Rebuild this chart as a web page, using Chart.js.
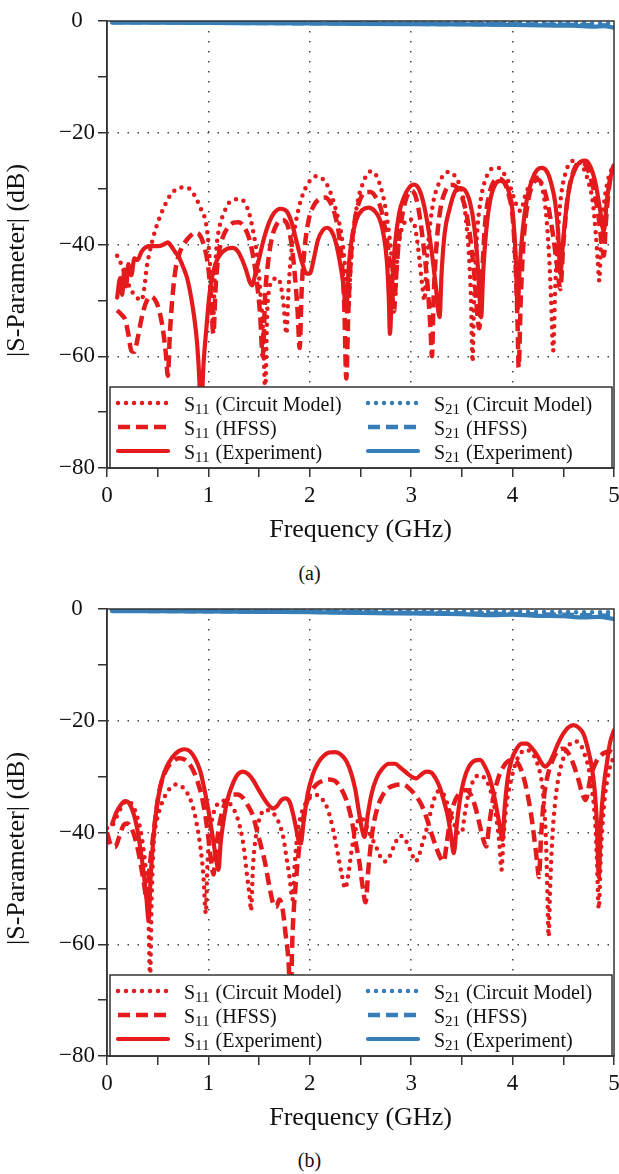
<!DOCTYPE html>
<html>
<head>
<meta charset="utf-8">
<script src="https://cdn.jsdelivr.net/npm/chart.js@4.4.1/dist/chart.umd.min.js"></script>
<style>
  body { margin: 0; background: #fff; }
  #page { position: relative; width: 619px; height: 1174px; }
  canvas { position: absolute; left: 0; }
  .cap { position: absolute; left: 0; width: 619px; text-align: center;
         font: 20px "Liberation Serif", serif; line-height: 24px; color: #111; }
</style>
</head>
<body>
<div id="page">
  <canvas id="chartA" width="619" height="555" style="top:0px"></canvas>
  <div class="cap" style="top:561px">(a)</div>
  <canvas id="chartB" width="619" height="555" style="top:588px"></canvas>
  <div class="cap" style="top:1148px">(b)</div>
</div>
<script>
// [frequency GHz, dB]

// ---- panel (a) ----
const A_S11_CIRCUIT = [
  [0.10,-42.0],[0.14,-43.5],[0.18,-45.5],[0.22,-47.5],[0.26,-48.8],[0.30,-49.6],[0.34,-50.0],[0.37,-47.5],
  [0.39,-44.3],[0.42,-41.4],[0.47,-37.8],[0.52,-35.1],[0.57,-33.0],[0.62,-31.3],[0.67,-30.3],[0.73,-29.8],
  [0.78,-29.8],[0.83,-30.3],[0.88,-31.8],[0.93,-33.8],[0.98,-36.6],[1.01,-42.0],[1.03,-48.0],[1.045,-55.0],
  [1.06,-47.0],[1.08,-40.5],[1.11,-36.8],[1.15,-34.5],[1.20,-32.6],[1.25,-32.0],[1.30,-31.9],[1.35,-32.3],
  [1.40,-34.3],[1.44,-37.5],[1.48,-42.0],[1.51,-48.0],[1.54,-56.0],[1.56,-66.0],
  [1.58,-52.0],[1.60,-48.0],[1.64,-46.3],[1.68,-46.0],[1.71,-47.0],[1.74,-50.5],[1.77,-56.0],
  [1.79,-48.0],[1.82,-41.0],[1.86,-36.2],[1.91,-32.2],[1.96,-29.8],[2.01,-28.4],[2.06,-27.8],[2.11,-28.0],
  [2.16,-29.0],[2.21,-31.0],[2.26,-34.0],[2.31,-38.0],[2.34,-42.5],[2.36,-47.0],[2.38,-52.0],
  [2.40,-45.0],[2.43,-38.0],[2.47,-32.5],[2.52,-29.2],[2.57,-27.3],[2.61,-26.9],[2.66,-27.8],[2.70,-29.8],
  [2.74,-32.8],[2.77,-36.5],[2.80,-41.0],[2.82,-46.0],[2.84,-49.5],
  [2.86,-43.0],[2.89,-38.5],[2.93,-36.2],[2.98,-35.5],[3.02,-35.8],[3.05,-38.2],[3.08,-42.5],[3.11,-47.5],[3.13,-50.0],
  [3.15,-44.0],[3.18,-37.5],[3.22,-32.2],[3.27,-29.2],[3.32,-27.5],[3.37,-27.0],[3.42,-27.5],[3.47,-29.0],
  [3.51,-31.5],[3.54,-35.5],[3.57,-42.0],[3.59,-50.0],[3.605,-61.0],
  [3.62,-50.0],[3.65,-38.0],[3.69,-31.5],[3.74,-28.0],[3.80,-26.4],[3.86,-26.3],[3.91,-27.2],[3.96,-28.8],
  [4.01,-31.5],[4.05,-33.5],[4.08,-34.0],[4.12,-31.5],[4.17,-29.2],[4.22,-28.0],[4.26,-28.3],[4.30,-30.5],
  [4.33,-34.5],[4.36,-42.0],[4.38,-50.0],[4.40,-59.0],
  [4.42,-48.0],[4.45,-37.0],[4.48,-31.0],[4.52,-27.3],[4.57,-25.3],[4.62,-25.0],[4.67,-25.6],[4.71,-26.8],
  [4.75,-29.0],[4.79,-32.3],[4.82,-38.0],[4.84,-43.0],[4.855,-46.5],
  [4.87,-40.0],[4.90,-33.0],[4.94,-28.5],[4.97,-26.8],[5.00,-26.0]
];
const A_S11_HFSS = [
  [0.10,-51.8],[0.14,-52.5],[0.18,-53.5],[0.21,-56.0],[0.24,-59.0],[0.27,-59.2],[0.30,-57.0],[0.34,-53.3],
  [0.38,-50.6],[0.43,-49.3],[0.47,-49.8],[0.51,-51.5],[0.55,-55.0],[0.58,-59.5],[0.60,-63.5],
  [0.62,-56.0],[0.65,-48.5],[0.68,-44.0],[0.72,-41.3],[0.77,-39.6],[0.82,-38.5],[0.87,-37.9],[0.91,-38.2],
  [0.95,-39.8],[0.99,-43.0],[1.02,-48.0],[1.05,-56.0],
  [1.07,-48.0],[1.10,-42.0],[1.14,-38.8],[1.19,-37.0],[1.25,-36.1],[1.30,-36.0],[1.35,-36.8],[1.40,-38.8],
  [1.44,-42.0],[1.48,-47.0],[1.51,-52.5],[1.535,-60.0],
  [1.56,-49.0],[1.59,-43.0],[1.63,-38.5],[1.68,-36.2],[1.73,-35.6],[1.78,-36.5],[1.82,-40.0],[1.85,-45.0],
  [1.88,-52.0],[1.90,-58.5],
  [1.92,-48.0],[1.95,-40.5],[1.99,-35.5],[2.04,-33.0],[2.10,-31.8],[2.15,-31.6],[2.20,-32.4],[2.25,-34.8],
  [2.29,-38.5],[2.32,-44.0],[2.34,-51.0],[2.36,-64.0],
  [2.38,-52.0],[2.41,-41.0],[2.45,-35.0],[2.50,-31.8],[2.55,-30.6],[2.60,-30.6],[2.65,-31.5],[2.70,-33.5],
  [2.74,-37.0],[2.78,-42.0],[2.81,-48.0],[2.83,-52.0],
  [2.85,-46.0],[2.88,-39.0],[2.92,-34.0],[2.96,-31.3],[3.00,-30.4],[3.04,-31.2],[3.08,-34.5],[3.12,-40.0],
  [3.16,-47.0],[3.19,-55.0],[3.205,-60.0],
  [3.22,-50.0],[3.25,-40.0],[3.29,-33.5],[3.34,-30.3],[3.39,-29.3],[3.44,-29.6],[3.49,-31.0],[3.54,-34.0],
  [3.58,-38.5],[3.62,-45.0],[3.65,-52.0],[3.67,-55.0],
  [3.70,-45.0],[3.73,-36.0],[3.77,-31.0],[3.82,-28.6],[3.87,-28.2],[3.92,-29.0],[3.96,-31.0],[4.00,-35.0],
  [4.03,-44.0],[4.05,-55.0],[4.06,-62.0],
  [4.08,-50.0],[4.11,-39.0],[4.15,-32.5],[4.20,-29.2],[4.25,-28.4],[4.30,-29.6],[4.35,-33.0],[4.40,-38.5],
  [4.44,-44.0],[4.47,-48.0],
  [4.50,-40.0],[4.54,-32.0],[4.59,-27.5],[4.64,-25.6],[4.69,-25.4],[4.74,-26.5],[4.79,-29.5],[4.84,-34.0],
  [4.88,-40.0],[4.90,-42.0],
  [4.92,-36.0],[4.95,-30.0],[4.98,-26.8],[5.00,-25.8]
];
const A_S11_EXP = [
  [0.10,-49.5],[0.13,-46.0],[0.15,-49.0],[0.17,-44.5],[0.19,-47.5],[0.21,-43.5],[0.24,-45.5],[0.27,-42.5],
  [0.30,-42.8],[0.34,-41.3],[0.38,-40.5],[0.44,-40.3],[0.50,-40.3],[0.56,-40.0],[0.60,-39.6],[0.63,-40.2],
  [0.67,-41.3],[0.71,-42.3],[0.75,-44.0],[0.79,-46.0],[0.83,-49.5],[0.86,-53.0],[0.89,-58.0],[0.91,-64.0],[0.925,-72.0],
  [0.95,-62.0],[0.98,-55.0],[1.01,-49.0],[1.04,-45.5],[1.08,-43.0],[1.13,-41.5],[1.19,-40.7],[1.24,-40.6],
  [1.29,-41.2],[1.33,-42.6],[1.37,-44.5],[1.41,-46.8],[1.43,-47.3],
  [1.46,-45.5],[1.50,-42.5],[1.55,-38.8],[1.60,-36.0],[1.65,-34.3],[1.71,-33.6],[1.77,-34.0],[1.82,-36.0],
  [1.87,-39.5],[1.92,-43.0],[1.97,-45.2],[2.00,-45.2],
  [2.04,-42.5],[2.08,-39.2],[2.13,-37.4],[2.17,-37.0],[2.21,-37.5],[2.25,-39.2],[2.29,-42.5],[2.33,-47.0],[2.36,-52.0],
  [2.38,-45.0],[2.41,-39.5],[2.46,-35.5],[2.52,-33.8],[2.58,-33.4],[2.64,-34.0],[2.69,-35.5],[2.73,-38.5],
  [2.76,-43.0],[2.78,-50.0],[2.79,-56.0],
  [2.81,-48.0],[2.84,-40.0],[2.88,-34.5],[2.93,-31.5],[2.98,-29.8],[3.03,-29.3],[3.08,-30.2],[3.12,-32.5],
  [3.16,-36.2],[3.20,-41.0],[3.24,-47.0],[3.28,-53.0],
  [3.30,-45.0],[3.33,-38.0],[3.38,-33.5],[3.43,-30.6],[3.48,-29.9],[3.53,-30.3],[3.58,-32.5],[3.62,-36.5],
  [3.65,-42.0],[3.67,-48.0],[3.69,-53.0],
  [3.71,-45.0],[3.74,-37.5],[3.78,-32.0],[3.83,-29.2],[3.88,-28.6],[3.93,-29.1],[3.97,-31.0],[4.00,-34.0],
  [4.03,-42.0],[4.05,-51.5],
  [4.07,-44.0],[4.10,-37.4],[4.14,-32.0],[4.19,-28.5],[4.24,-26.7],[4.29,-26.3],[4.34,-27.0],[4.38,-29.0],
  [4.42,-32.5],[4.45,-38.0],[4.47,-45.2],
  [4.50,-39.0],[4.53,-33.5],[4.57,-29.0],[4.62,-26.4],[4.67,-25.2],[4.72,-25.0],[4.77,-26.2],[4.82,-29.2],
  [4.86,-33.5],[4.90,-37.6],
  [4.93,-32.0],[4.96,-28.5],[5.00,-25.8]
];
const A_S21_CIRCUIT = [[0.05,-0.15],[1.0,-0.2],[2.0,-0.25],[3.0,-0.3],[4.0,-0.35],[5.0,-0.45]];
const A_S21_HFSS = [[0.05,-0.2],[1.0,-0.3],[2.0,-0.4],[3.0,-0.5],[4.0,-0.6],[5.0,-0.8]];
const A_S21_EXP = [
  [0.05,-0.3],[0.5,-0.3],[1.0,-0.35],[1.5,-0.4],[2.0,-0.45],[2.5,-0.5],[3.0,-0.55],[3.5,-0.6],
  [4.0,-0.7],[4.3,-0.8],[4.6,-0.85],[4.8,-1.0],[4.9,-0.9],[5.0,-1.2]
];

// ---- panel (b) ----
const B_S11_CIRCUIT = [
  [0.00,-39.2],[0.05,-38.8],[0.10,-37.0],[0.14,-35.5],[0.19,-34.4],[0.23,-34.6],[0.27,-35.8],[0.31,-38.0],
  [0.34,-40.5],[0.37,-44.5],[0.39,-48.5],[0.41,-56.0],[0.425,-66.0],
  [0.44,-52.0],[0.46,-42.0],[0.49,-38.0],[0.53,-35.3],[0.58,-33.2],[0.63,-31.9],[0.69,-31.4],[0.74,-31.8],
  [0.79,-32.9],[0.84,-35.0],[0.88,-38.0],[0.92,-42.5],[0.95,-47.5],[0.975,-54.5],
  [0.99,-46.0],[1.02,-39.5],[1.06,-36.0],[1.11,-34.6],[1.16,-34.3],[1.21,-34.8],[1.26,-36.2],[1.31,-38.9],
  [1.35,-42.8],[1.38,-47.5],[1.41,-52.0],[1.42,-54.0],
  [1.44,-46.0],[1.47,-40.5],[1.51,-37.2],[1.56,-35.9],[1.61,-36.2],[1.66,-37.0],[1.70,-38.5],[1.74,-41.0],
  [1.77,-44.5],[1.80,-48.0],[1.83,-52.0],
  [1.85,-46.0],[1.88,-40.0],[1.92,-36.5],[1.97,-34.5],[2.03,-33.4],[2.08,-33.3],[2.13,-34.2],[2.18,-36.0],
  [2.23,-39.5],[2.27,-43.2],[2.31,-47.0],[2.35,-50.0],
  [2.38,-47.5],[2.41,-43.5],[2.45,-39.6],[2.49,-37.4],[2.53,-37.8],[2.57,-39.3],[2.62,-41.3],[2.67,-43.2],
  [2.71,-44.8],[2.75,-45.2],[2.79,-44.2],[2.84,-42.0],[2.89,-40.6],[2.93,-40.9],[2.97,-42.3],[3.01,-44.0],
  [3.04,-45.2],[3.07,-44.5],[3.11,-42.0],[3.15,-39.5],[3.19,-36.5],[3.23,-33.8],[3.27,-32.6],[3.31,-32.9],
  [3.35,-34.5],[3.39,-36.8],[3.43,-38.8],[3.47,-40.2],[3.50,-40.0],[3.53,-36.5],[3.57,-32.8],[3.62,-30.5],
  [3.67,-29.7],[3.72,-30.2],[3.77,-31.8],[3.81,-34.5],[3.84,-37.5],[3.87,-42.0],[3.89,-46.7],
  [3.91,-41.0],[3.94,-35.0],[3.98,-31.0],[4.03,-27.6],[4.08,-25.8],[4.13,-25.2],[4.18,-25.6],[4.22,-26.6],
  [4.26,-28.6],[4.29,-31.2],[4.31,-35.0],[4.33,-42.0],[4.345,-52.0],[4.355,-58.6],
  [4.37,-50.0],[4.39,-41.5],[4.42,-34.5],[4.46,-29.5],[4.51,-26.2],[4.56,-24.3],[4.62,-23.7],[4.67,-24.3],
  [4.71,-26.0],[4.75,-28.5],[4.78,-32.0],[4.81,-37.0],[4.83,-44.0],[4.85,-53.6],
  [4.87,-44.0],[4.90,-35.4],[4.94,-30.0],[4.97,-27.7],[5.00,-26.5]
];
const B_S11_HFSS = [
  [0.00,-40.0],[0.04,-42.3],[0.08,-42.6],[0.12,-40.8],[0.16,-38.8],[0.20,-38.4],[0.24,-39.2],[0.28,-41.2],
  [0.31,-43.5],[0.34,-46.5],[0.37,-49.8],[0.39,-52.0],
  [0.41,-48.0],[0.44,-43.0],[0.47,-38.5],[0.50,-34.2],[0.54,-30.8],[0.59,-28.6],[0.65,-27.3],[0.71,-26.7],
  [0.77,-27.0],[0.83,-28.2],[0.88,-30.2],[0.93,-33.2],[0.97,-37.0],[1.00,-41.0],[1.03,-45.5],[1.05,-47.5],
  [1.07,-44.0],[1.10,-39.5],[1.14,-36.0],[1.19,-34.0],[1.24,-33.2],[1.29,-33.2],[1.34,-33.8],[1.39,-35.2],
  [1.44,-37.0],[1.48,-39.8],[1.52,-42.5],[1.56,-45.5],[1.60,-49.5],[1.64,-52.8],[1.67,-53.3],[1.70,-52.0],
  [1.73,-53.5],[1.76,-58.0],[1.79,-63.0],[1.81,-70.0],
  [1.83,-58.0],[1.86,-49.5],[1.90,-42.0],[1.95,-36.0],[2.00,-33.2],[2.06,-31.5],[2.12,-30.8],[2.19,-30.5],
  [2.25,-30.8],[2.31,-32.2],[2.36,-34.2],[2.41,-37.5],[2.45,-41.5],[2.49,-45.5],[2.52,-49.5],[2.55,-52.5],
  [2.58,-46.0],[2.62,-39.5],[2.67,-35.4],[2.72,-33.3],[2.78,-32.0],[2.85,-31.5],[2.92,-31.4],[2.98,-32.1],
  [3.04,-33.3],[3.10,-35.0],[3.15,-37.3],[3.20,-40.2],[3.25,-42.8],[3.29,-44.6],[3.32,-45.2],
  [3.35,-42.0],[3.39,-37.0],[3.44,-34.0],[3.49,-32.8],[3.54,-32.4],[3.59,-33.3],[3.63,-35.3],[3.67,-38.2],
  [3.71,-41.2],[3.74,-42.5],
  [3.77,-38.5],[3.81,-33.8],[3.86,-30.2],[3.91,-28.2],[3.96,-27.2],[4.01,-27.0],[4.06,-27.8],[4.10,-29.6],
  [4.14,-32.5],[4.18,-36.5],[4.21,-40.5],[4.24,-45.0],[4.26,-48.0],
  [4.28,-41.0],[4.31,-33.6],[4.35,-29.5],[4.40,-26.8],[4.45,-25.3],[4.50,-25.0],[4.55,-25.8],[4.60,-27.8],
  [4.65,-30.6],[4.69,-33.2],[4.72,-34.2],
  [4.77,-30.0],[4.82,-27.5],[4.87,-26.2],[4.92,-25.6],[4.96,-25.5],[5.00,-25.8]
];
const B_S11_EXP = [
  [0.05,-38.5],[0.09,-36.5],[0.13,-35.2],[0.18,-34.4],[0.22,-34.8],[0.26,-36.5],[0.30,-39.5],[0.33,-43.0],
  [0.36,-47.0],[0.39,-52.0],[0.41,-55.7],
  [0.43,-48.0],[0.46,-40.5],[0.49,-35.5],[0.53,-31.5],[0.57,-29.0],[0.62,-27.2],[0.67,-26.0],[0.72,-25.3],
  [0.77,-25.1],[0.82,-25.5],[0.87,-26.8],[0.92,-29.0],[0.96,-32.2],[1.00,-36.0],[1.04,-40.5],[1.07,-44.0],[1.10,-46.7],
  [1.12,-42.0],[1.15,-37.8],[1.19,-34.0],[1.24,-31.3],[1.29,-29.6],[1.34,-29.1],[1.39,-29.5],[1.44,-30.6],
  [1.49,-32.2],[1.54,-33.7],[1.59,-35.0],[1.64,-35.7],[1.68,-35.2],[1.72,-34.2],[1.76,-33.9],[1.80,-34.5],
  [1.83,-36.3],[1.86,-38.8],[1.89,-41.5],[1.91,-42.0],
  [1.94,-38.0],[1.98,-33.0],[2.03,-29.6],[2.08,-27.6],[2.13,-26.4],[2.19,-25.7],[2.25,-25.6],[2.31,-26.1],
  [2.36,-27.2],[2.41,-29.5],[2.45,-32.4],[2.48,-35.8],[2.51,-39.0],[2.54,-40.8],
  [2.57,-37.0],[2.61,-33.0],[2.66,-30.2],[2.72,-28.5],[2.78,-27.7],[2.84,-27.7],[2.90,-28.5],[2.96,-29.4],
  [3.01,-30.1],[3.05,-30.3],[3.10,-29.6],[3.15,-29.1],[3.20,-29.3],[3.24,-30.3],[3.28,-31.8],[3.32,-34.2],
  [3.36,-37.0],[3.39,-40.2],[3.42,-43.7],
  [3.45,-38.5],[3.48,-34.2],[3.52,-30.6],[3.57,-28.2],[3.63,-27.1],[3.68,-27.0],[3.73,-28.3],[3.77,-30.0],
  [3.81,-32.8],[3.85,-36.5],[3.88,-39.5],[3.90,-41.3],
  [3.92,-36.0],[3.95,-30.5],[3.99,-27.0],[4.04,-25.0],[4.09,-24.1],[4.14,-24.1],[4.19,-24.9],[4.24,-26.1],
  [4.28,-27.4],[4.32,-28.2],[4.36,-27.6],[4.40,-26.2],[4.45,-24.0],[4.50,-22.3],[4.55,-21.2],[4.60,-20.8],
  [4.65,-21.2],[4.70,-22.4],[4.74,-24.8],[4.78,-28.2],[4.81,-32.5],[4.83,-38.0],[4.85,-48.0],
  [4.87,-38.4],[4.90,-31.5],[4.93,-27.6],[4.96,-24.0],[5.00,-21.7]
];
const B_S21_CIRCUIT = [[0.05,-0.2],[1.0,-0.25],[2.0,-0.3],[3.0,-0.4],[4.0,-0.5],[5.0,-0.6]];
const B_S21_HFSS = [[0.05,-0.3],[1.0,-0.4],[2.0,-0.5],[3.0,-0.7],[4.0,-0.9],[5.0,-1.2]];
const B_S21_EXP = [
  [0.05,-0.4],[0.5,-0.4],[1.0,-0.45],[1.5,-0.5],[2.0,-0.55],[2.5,-0.7],[3.0,-0.8],[3.5,-0.9],
  [3.8,-1.1],[4.0,-1.0],[4.2,-1.2],[4.5,-1.3],[4.7,-1.5],[4.85,-1.4],[5.0,-1.8]
];

const SERIES_NAMES = ['(Circuit Model)', '(HFSS)', '(Experiment)'];
const Y_TITLE = '|S-Parameter| (dB)';
const X_TITLE = 'Frequency (GHz)';

const RED = '#e41a1c';
const BLUE = '#377eb8';
const FONT = '"Liberation Serif", "Times New Roman", serif';

const LINE_STYLES = [
  {borderDash: [0, 8], borderCapStyle: 'round', borderWidth: 4.5},   // circuit model
  {borderDash: [12, 6], borderCapStyle: 'butt', borderWidth: 4.5},   // HFSS
  {borderDash: [], borderCapStyle: 'round', borderWidth: 4.2}        // experiment
];

function makeSet(param, kind, color, pts) {
  const st = LINE_STYLES[kind];
  return {
    label: 'S' + param + ' ' + SERIES_NAMES[kind],
    data: pts.map(p => ({x: p[0], y: p[1]})),
    borderColor: color,
    borderWidth: st.borderWidth,
    borderDash: st.borderDash,
    borderCapStyle: st.borderCapStyle,
    borderJoinStyle: 'round',
    pointRadius: 0,
    fill: false,
    cubicInterpolationMode: 'monotone'
  };
}

// legend box inside the plot, frame, and the y title
const boxLegend = {
  id: 'boxLegend',
  afterDatasetsDraw(chart) {
    const ctx = chart.ctx;
    const a = chart.chartArea;
    ctx.save();
    ctx.setLineDash([]);

    const top = a.bottom - 81;
    ctx.fillStyle = '#fff';
    ctx.fillRect(a.left + 3, top, a.right - a.left - 5, a.bottom - top);
    ctx.strokeStyle = '#333';
    ctx.lineWidth = 1.5;
    ctx.strokeRect(a.left + 3, top, a.right - a.left - 5, a.bottom - top);

    const cols = [a.left + 11, a.left + 261];
    const rows = [top + 16, top + 40, top + 64];
    const order = [['11', 0], ['11', 1], ['11', 2], ['21', 0], ['21', 1], ['21', 2]];
    order.forEach((o, i) => {
      const ds = chart.data.datasets.find(d => d.label === 'S' + o[0] + ' ' + SERIES_NAMES[o[1]]);
      const x = cols[Math.floor(i / 3)];
      const y = rows[i % 3];
      ctx.beginPath();
      ctx.strokeStyle = ds.borderColor;
      ctx.lineWidth = ds.borderWidth;
      ctx.lineCap = ds.borderCapStyle;
      ctx.setLineDash(ds.borderDash);
      ctx.moveTo(x, y);
      ctx.lineTo(x + 50, y);
      ctx.stroke();
      ctx.setLineDash([]);

      ctx.fillStyle = '#111';
      ctx.textBaseline = 'alphabetic';
      let tx = x + 66;
      ctx.font = '20px ' + FONT;
      ctx.fillText('S', tx, y + 7.5);
      tx += ctx.measureText('S').width;
      ctx.font = '15px ' + FONT;
      ctx.fillText(o[0], tx, y + 11);
      tx += ctx.measureText(o[0]).width + 1;
      ctx.font = '20px ' + FONT;
      ctx.fillText(' ' + SERIES_NAMES[o[1]], tx, y + 7.5);
    });

    // frame round the plot
    ctx.strokeStyle = '#333';
    ctx.lineWidth = 1.5;
    ctx.strokeRect(a.left, a.top, a.right - a.left, a.bottom - a.top);

    // y axis title
    ctx.translate(17, (a.top + a.bottom) / 2 + 16);
    ctx.rotate(-Math.PI / 2);
    ctx.font = '26px ' + FONT;
    ctx.fillStyle = '#111';
    ctx.textAlign = 'center';
    ctx.textBaseline = 'middle';
    ctx.fillText(Y_TITLE, 0, 0);
    ctx.restore();
  }
};

function makeChart(id, s11, s21) {
  const datasets = [
    makeSet('21', 2, BLUE, s21[2]),
    makeSet('21', 1, BLUE, s21[1]),
    makeSet('21', 0, BLUE, s21[0]),
    makeSet('11', 2, RED, s11[2]),
    makeSet('11', 1, RED, s11[1]),
    makeSet('11', 0, RED, s11[0])
  ];
  return new Chart(document.getElementById(id), {
    type: 'line',
    data: {datasets: datasets},
    options: {
      responsive: false,
      animation: false,
      events: [],
      layout: {padding: {top: 21, right: 5, left: 0, bottom: 0}},
      plugins: {legend: {display: false}, tooltip: {enabled: false}},
      scales: {
        x: {
          type: 'linear',
          min: 0, max: 5,
          afterFit: (s) => { s.height = 87; s.paddingLeft = 0; s.paddingRight = 0; },
          border: {display: true, color: '#333', width: 1.5, dash: [1.5, 8.5]},
          grid: {
            color: (c) => (Number.isInteger(c.tick.value) && c.tick.value > 0 && c.tick.value < 5) ? '#444' : 'rgba(0,0,0,0)',
            lineWidth: 1.5,
            tickColor: '#333',
            tickWidth: 1.5,
            tickLength: 9,
            tickBorderDash: []
          },
          ticks: {
            stepSize: 0.5,
            autoSkip: false,
            maxRotation: 0,
            padding: 5,
            color: '#111',
            font: {family: FONT, size: 23},
            callback: (v) => Number.isInteger(v) ? String(v) : ''
          },
          title: {
            display: true,
            text: X_TITLE,
            color: '#111',
            font: {family: FONT, size: 26},
            padding: {top: 0, bottom: 9}
          }
        },
        y: {
          min: -80, max: 0,
          afterFit: (s) => { s.width = 107; s.paddingTop = 0; s.paddingBottom = 0; },
          border: {display: true, color: '#333', width: 1.5, dash: [1.5, 8.5]},
          grid: {
            color: (c) => (c.tick.value % 20 === 0 && c.tick.value < 0 && c.tick.value > -80) ? '#444' : 'rgba(0,0,0,0)',
            lineWidth: 1.5,
            tickColor: '#333',
            tickWidth: 1.5,
            tickLength: 9,
            tickBorderDash: []
          },
          ticks: {
            stepSize: 10,
            autoSkip: false,
            padding: 3,
            crossAlign: 'center',
            color: '#111',
            font: {family: FONT, size: 23},
            callback: (v) => v % 20 === 0 ? (v < 0 ? '\u2212' + Math.abs(v) : String(v)) : ''
          },
          title: {display: false}
        }
      }
    },
    plugins: [boxLegend]
  });
}

makeChart('chartA', [A_S11_CIRCUIT, A_S11_HFSS, A_S11_EXP], [A_S21_CIRCUIT, A_S21_HFSS, A_S21_EXP]);
makeChart('chartB', [B_S11_CIRCUIT, B_S11_HFSS, B_S11_EXP], [B_S21_CIRCUIT, B_S21_HFSS, B_S21_EXP]);
</script>
</body>
</html>
